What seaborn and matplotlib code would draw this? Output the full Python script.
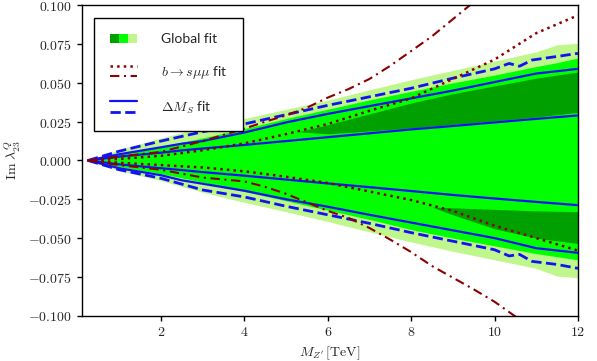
import matplotlib

matplotlib.use("Agg")

import matplotlib.pyplot as plt
import seaborn as sns
from matplotlib.legend_handler import HandlerBase, HandlerTuple
from matplotlib.lines import Line2D
from matplotlib.patches import Rectangle
from matplotlib.ticker import FixedLocator, FuncFormatter

DARK_RED = "#8b0000"
BLUE = "#1212f2"
GREEN_DARK = "#00a000"
GREEN_MID = "#00ff00"
GREEN_LIGHT = "#bff78c"
DASHDOT = (0, (4.5, 2.2, 1, 2.2))

# global fit bands (3 sigma, 2 sigma) on a common mass grid [TeV]
mass = [0.25, 1, 2, 3, 4, 5, 6, 7, 8, 9, 10, 11, 11.5, 12]
light_upper = [0, 0.007, 0.0145, 0.0215, 0.027, 0.033, 0.0388, 0.0455, 0.052, 0.058, 0.064, 0.070, 0.0745, 0.0755]
light_lower = [0, -0.0065, -0.013, -0.0205, -0.027, -0.033, -0.0393, -0.046, -0.0525, -0.0585, -0.064, -0.0695, -0.0745, -0.0755]
lime_upper = [0, 0.004, 0.009, 0.0145, 0.0205, 0.027, 0.033, 0.039, 0.0445, 0.050, 0.055, 0.0605, 0.063, 0.066]
lime_lower = [0, -0.004, -0.0085, -0.014, -0.020, -0.026, -0.032, -0.038, -0.0445, -0.050, -0.055, -0.060, -0.062, -0.064]

# 1 sigma wedges
wedge_up_mass = [5.3, 6, 7, 8, 9, 10, 11, 12]
wedge_up_top = [0.0185, 0.023, 0.030, 0.037, 0.043, 0.048, 0.053, 0.057]
wedge_up_bottom = [0.0185, 0.0172, 0.019, 0.021, 0.0232, 0.0255, 0.028, 0.031]
wedge_low_mass = [8.5, 9, 10, 11, 12]
wedge_low_top = [-0.030, -0.0305, -0.0315, -0.0325, -0.033]
wedge_low_bottom = [-0.030, -0.035, -0.044, -0.050, -0.0535]

# b -> s mu mu fit
bsmm_mass = [0.25, 1, 2, 3, 4, 5, 6, 7, 8, 9, 10, 11, 12]
bsmm_dot_upper = [0, 0.001, 0.003, 0.0066, 0.011, 0.017, 0.0235, 0.032, 0.040, 0.0525, 0.065, 0.082, 0.0935]
bsmm_dot_lower = [0, -0.0015, -0.003, -0.0045, -0.007, -0.0105, -0.0145, -0.020, -0.0255, -0.0325, -0.042, -0.050, -0.058]
bsmm_dd_mass = [0.25, 1, 2, 3, 4, 4.5, 5, 5.5, 6, 6.5, 7, 7.5, 8, 8.5, 9, 9.5, 10, 10.5, 11]
bsmm_dd_upper = [0, 0.0025, 0.0055, 0.0125, 0.0205, 0.025, 0.029, 0.034, 0.0405, 0.046, 0.0525, 0.061, 0.0705, 0.080, 0.091, 0.102, 0.113, 0.124, 0.135]
bsmm_dd_lower = [0, -0.003, -0.006, -0.011, -0.0135, -0.017, -0.0215, -0.027, -0.0325, -0.037, -0.0435, -0.051, -0.059, -0.068, -0.0755, -0.083, -0.091, -0.1005, -0.110]

# Delta M_s fit
dms_mass = [0.25, 1, 2, 2.5, 3, 4, 5, 6, 7, 8, 9, 10, 11, 12]
dms_solid_inner_upper = [0, 0.0025, 0.005, 0.0065, 0.0077, 0.010, 0.0125, 0.015, 0.0175, 0.020, 0.0222, 0.0245, 0.0268, 0.029]
dms_solid_inner_lower = [0, -0.0025, -0.005, -0.0062, -0.0075, -0.0098, -0.0123, -0.0148, -0.0172, -0.0197, -0.0222, -0.0245, -0.0267, -0.0288]
dms_solid_outer_upper = [0, 0.004, 0.0085, 0.0108, 0.0125, 0.018, 0.0245, 0.030, 0.035, 0.040, 0.045, 0.0505, 0.056, 0.059]
dms_solid_outer_lower = [0, -0.005, -0.0095, -0.0128, -0.0150, -0.0195, -0.025, -0.0298, -0.035, -0.040, -0.045, -0.050, -0.0565, -0.0595]
dms_dash_mass = [0.25, 1, 2, 3, 4, 5, 6, 7, 8, 9, 10, 10.35, 10.6, 10.9, 11.5, 12]
dms_dash_upper = [0, 0.006, 0.0125, 0.0185, 0.0235, 0.0295, 0.0355, 0.041, 0.0465, 0.053, 0.059, 0.0625, 0.0607, 0.0647, 0.067, 0.069]
dms_dash_lower = [0, -0.006, -0.0115, -0.019, -0.0235, -0.0295, -0.035, -0.0405, -0.0465, -0.052, -0.0575, -0.0615, -0.0605, -0.065, -0.067, -0.0695]

y_ticks = [-0.100, -0.075, -0.050, -0.025, 0.000, 0.025, 0.050, 0.075, 0.100]
x_ticks = [2, 4, 6, 8, 10, 12]


class StackedLines(HandlerBase):
    # two line styles drawn one above the other in a single legend entry
    def create_artists(self, legend, orig_handle, xdescent, ydescent, width, height, fontsize, trans):
        artists = []
        for handle, frac in zip(orig_handle, (1.1, -0.1)):
            line = Line2D([-xdescent, -xdescent + width], [frac * height - ydescent] * 2)
            line.update_from(handle)
            line.set_transform(trans)
            artists.append(line)
        return artists


sns.set_theme(context="paper", style="ticks")
plt.rcParams["font.family"] = ["Lato", "DejaVu Sans"]
plt.rcParams["mathtext.fontset"] = "cm"
plt.rcParams["axes.edgecolor"] = "black"
plt.rcParams["axes.linewidth"] = 1.0

fig = plt.figure(figsize=(5.97, 3.61), dpi=100)
ax = fig.add_axes([0.137, 0.1255, 0.831, 0.86])

ax.fill_between(mass, light_lower, light_upper, color=GREEN_LIGHT, lw=0)
ax.fill_between(mass, lime_lower, lime_upper, color=GREEN_MID, lw=0)
ax.fill_between(wedge_up_mass, wedge_up_bottom, wedge_up_top, color=GREEN_DARK, lw=0)
ax.fill_between(wedge_low_mass, wedge_low_bottom, wedge_low_top, color=GREEN_DARK, lw=0)

line_kw = dict(ax=ax, sort=False, estimator=None)
for ys in (dms_solid_inner_upper, dms_solid_inner_lower, dms_solid_outer_upper, dms_solid_outer_lower):
    sns.lineplot(x=dms_mass, y=ys, color=BLUE, lw=1.6, **line_kw)
for ys in (dms_dash_upper, dms_dash_lower):
    sns.lineplot(x=dms_dash_mass, y=ys, color=BLUE, lw=2.0, linestyle="--", **line_kw)
for ys in (bsmm_dot_upper, bsmm_dot_lower):
    sns.lineplot(x=bsmm_mass, y=ys, color=DARK_RED, lw=1.8, linestyle=":", **line_kw)
for ys in (bsmm_dd_upper, bsmm_dd_lower):
    sns.lineplot(x=bsmm_dd_mass, y=ys, color=DARK_RED, lw=1.5, linestyle=DASHDOT, **line_kw)

ax.set_xlim(0.1, 12)
ax.set_ylim(-0.1, 0.1)
ax.xaxis.set_major_locator(FixedLocator(x_ticks))
ax.yaxis.set_major_locator(FixedLocator(y_ticks))
ax.xaxis.set_major_formatter(FuncFormatter(lambda v, _: f"${v:g}$"))
ax.yaxis.set_major_formatter(FuncFormatter(lambda v, _: f"${v:.3f}$"))
ax.tick_params(axis="both", labelsize=10, length=3.5, width=1.0, color="black", direction="out")
ax.set_xlabel(r"$M_{Z^\prime}\,[\mathrm{TeV}]$", fontsize=10)
ax.set_ylabel(r"$\mathrm{Im}\ \lambda^{Q}_{23}$", fontsize=10)
for spine in ax.spines.values():
    spine.set_visible(True)
    spine.set_color("black")

global_handle = tuple(
    Rectangle((0, 0), 1, 1, facecolor=c, edgecolor="none") for c in (GREEN_DARK, GREEN_MID, GREEN_LIGHT)
)
bsmm_handle = (
    Line2D([], [], color=DARK_RED, lw=1.8, linestyle=":"),
    Line2D([], [], color=DARK_RED, lw=1.5, linestyle=DASHDOT),
)
dms_handle = (
    Line2D([], [], color=BLUE, lw=1.6),
    Line2D([], [], color=BLUE, lw=2.0, linestyle="--"),
)
legend = ax.legend(
    [global_handle, bsmm_handle, dms_handle],
    ["Global fit", r"$b\to s\mu\mu$ fit", r"$\Delta M_S$ fit"],
    handler_map={
        global_handle: HandlerTuple(ndivide=None, pad=0),
        bsmm_handle: StackedLines(),
        dms_handle: StackedLines(),
    },
    loc="upper left",
    fontsize=10,
    frameon=True,
    fancybox=False,
    framealpha=1,
    edgecolor="black",
    borderpad=1.1,
    borderaxespad=0.9,
    labelspacing=1.35,
    handlelength=2.0,
    handleheight=0.6,
    handletextpad=1.7,
)
legend.get_frame().set_linewidth(1.0)

fig.savefig("out.png", dpi=100)
